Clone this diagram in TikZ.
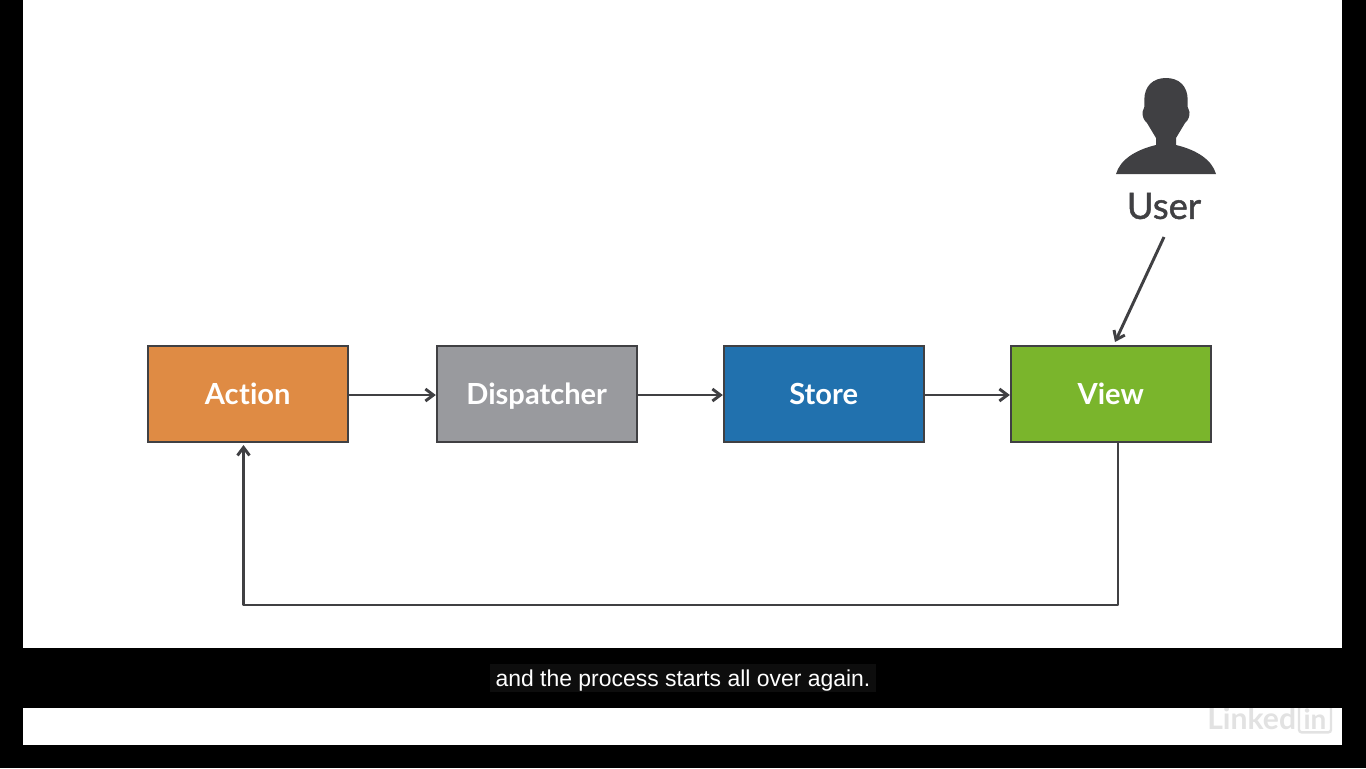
\documentclass[tikz,border=0pt]{standalone}
\usepackage{fontspec}
\setmainfont[Ligatures=NoCommon]{Lato}
\newfontfamily\capfont{Liberation Sans}
\newfontfamily\userfont[FakeBold=1.3]{Lato}
\usetikzlibrary{arrows.meta,calc}
\definecolor{ink}{HTML}{404043}
\definecolor{actionc}{HTML}{DF8B44}
\definecolor{dispc}{HTML}{999A9E}
\definecolor{storec}{HTML}{2171AE}
\definecolor{viewc}{HTML}{7AB52C}
\definecolor{wm}{HTML}{E2E2E2}
\tikzset{
  x=0.75pt,y=-0.75pt,
  flowbox/.style={draw=ink,line width=1.3pt,minimum width=150pt,minimum height=72.5pt,inner sep=0pt,text=white,text height=19.5pt,text depth=4pt,font=\fontsize{21.8pt}{24pt}\selectfont\bfseries},
  link/.style={draw=ink,line width=2.2pt,-{Straight Barb[length=6pt,width=9pt,line width=2.2pt]}},
}
\begin{document}
\begin{tikzpicture}
\useasboundingbox (0,0) rectangle (1366,768);
\fill[black] (0,0) rectangle (1366,768);
\fill[white] (23,0) rectangle (1342,745);
% watermark
\node[anchor=west,inner sep=0pt,text=wm,font=\fontsize{22.6pt}{24pt}\selectfont\bfseries] (lk) at (1207,718) {Linked};
\node[draw=wm,line width=1.8pt,rounded corners=2pt,minimum width=24pt,minimum height=20pt,inner sep=0pt,text=wm,font=\fontsize{21pt}{24pt}\selectfont\bfseries] (in) at (1315,719) {in};
% caption band
\fill[black] (0,648) rectangle (1366,708);
\fill[black!95] (490,664) rectangle (876,692);
\node[inner sep=0pt,text=white,font=\capfont\fontsize{17.2pt}{20pt}\selectfont] (captext) at (683,680.5) {and the process starts all over again.};
% boxes
\node[flowbox,fill=actionc] (action) at (247.7,394) {Ac\kern0.4pt tion};
\node[flowbox,fill=dispc] (disp) at (536.7,394) {Dispatcher};
\node[flowbox,fill=storec] (store) at (823.7,394) {Store};
\node[flowbox,fill=viewc] (view) at (1110.7,394) {View};
% user
\fill[ink] (1116,174)
  .. controls (1120,160) and (1135,150) .. (1156,145)
  -- (1156,138)
  -- (1147,123)
  .. controls (1143.5,120) and (1142.3,116) .. (1142.5,112)
  .. controls (1143,110) and (1144,109) .. (1144.3,107)
  -- (1144.3,100)
  .. controls (1144.3,86) and (1153,78) .. (1166,78)
  .. controls (1179,78) and (1187.7,86) .. (1187.7,100)
  -- (1187.7,107)
  .. controls (1188,109) and (1189,110) .. (1189.5,112)
  .. controls (1189.7,116) and (1188.5,120) .. (1185,123)
  -- (1176,138)
  -- (1176,145)
  .. controls (1197,150) and (1212,160) .. (1216,174)
  -- cycle;
\node[inner sep=0pt,text=ink,font=\userfont\fontsize{27.3pt}{30pt}\selectfont] (user) at (1164,206) {User};
% connectors
\coordinate (ufrom) at (1164,237);
\coordinate (uto) at (1115,342);
\coordinate (vout) at (1118,443);
\coordinate (ain) at (243.5,445);
\coordinate (lowr) at (1118,605);
\coordinate (lowl) at (243.5,605);
\draw[link] (action.east |- 0,395) -- (disp.west |- 0,395);
\draw[link] (disp.east |- 0,395) -- (store.west |- 0,395);
\draw[link] (store.east |- 0,395) -- (view.west |- 0,395);
\draw[link] (ufrom) -- (uto);
\draw[link,line join=round] (vout) -- (lowr) -- (lowl) -- (ain);
\end{tikzpicture}
\end{document}
